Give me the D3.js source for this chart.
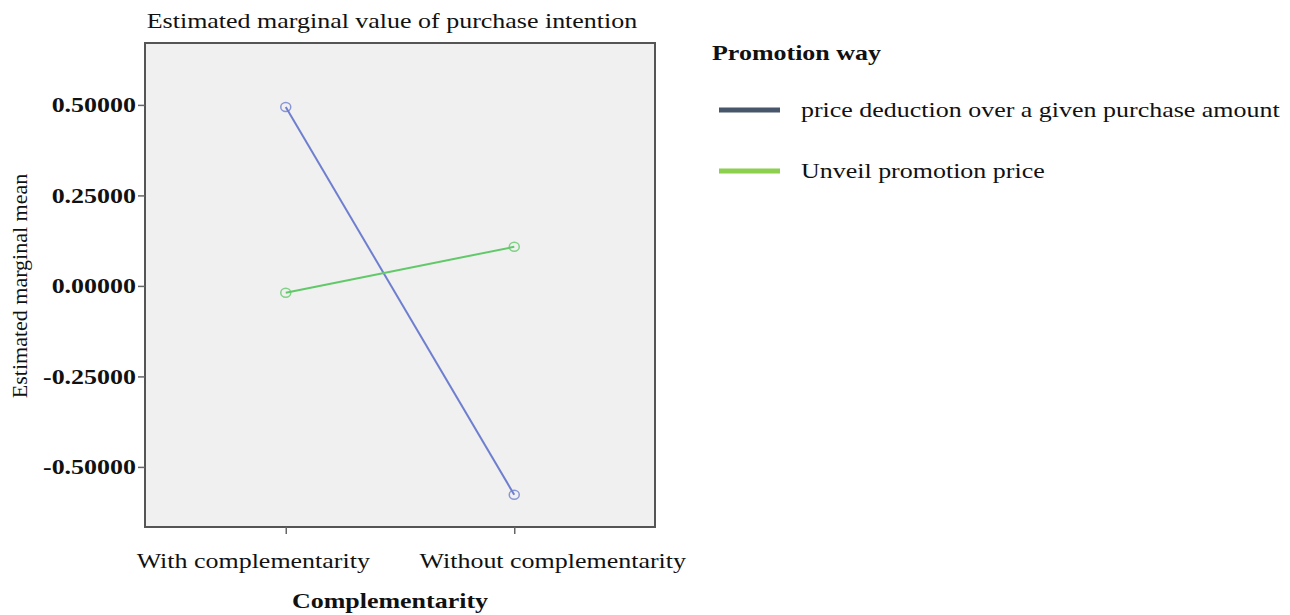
<!DOCTYPE html>
<html>
<head>
<meta charset="utf-8">
<script src="https://cdn.jsdelivr.net/npm/d3@7"></script>
<style>
  body { margin: 0; background: #fff; }
  text { font-family: "Liberation Serif", "Times New Roman", serif; fill: #111; }
</style>
</head>
<body>
<div id="chart"></div>
<script>
(function() {
var width = 1290,
  height = 615;

var categories = ["With complementarity", "Without complementarity"];
var seriesNames = ["price deduction over a given purchase amount", "Unveil promotion price"];
var priceDeduction = [0.494, -0.577];
var unveilPrice = [-0.019, 0.108];
var yTicks = [-0.5, -0.25, 0, 0.25, 0.5];

var lineColors = ["#6f7fcf", "#62c96a"];
var legendColors = ["#48566b", "#8cd04e"];

var series = [
  { name: seriesNames[0], values: priceDeduction },
  { name: seriesNames[1], values: unveilPrice }
];

var left = 145, right = 655, top = 43, bottom = 527;
var stretch = 1.18; // the original picture is a bit wider than tall

var svg = d3.select("#chart")
  .append("svg")
  .attr("width", width)
  .attr("height", height);

var x = d3.scalePoint().domain(categories).range([left, right]).padding(0.616);
var y = d3.scaleLinear().domain([-0.666, 0.671]).range([bottom, top]);

// plot background + frame
svg.append("rect")
  .attr("x", left).attr("y", top)
  .attr("width", right - left).attr("height", bottom - top)
  .attr("fill", "#f0f0f0")
  .attr("stroke", "#555")
  .attr("stroke-width", 2);

// y axis
var yAxis = svg.append("g")
  .attr("transform", "translate(" + left + ",0)")
  .call(d3.axisLeft(y).tickValues(yTicks).tickSize(7).tickPadding(2)
    .tickFormat(function(d) { return d3.format(".5f")(d).replace("\u2212", "-"); }));
yAxis.select(".domain").remove();
yAxis.selectAll("line").attr("stroke", "#666").attr("stroke-width", 1.5);
yAxis.selectAll("text")
  .attr("class", "stretch")
  .attr("font-size", 22).attr("font-weight", "bold")
  .style("font-family", "'Liberation Serif', serif").attr("fill", "#111");

// x axis (labels in the source sit off-centre from their ticks)
var labelShift = [-33, 38];
var xAxis = svg.append("g")
  .attr("transform", "translate(0," + bottom + ")")
  .call(d3.axisBottom(x).tickSize(7).tickPadding(18));
xAxis.select(".domain").remove();
xAxis.selectAll("line").attr("stroke", "#666").attr("stroke-width", 1.5);
xAxis.selectAll("text")
  .attr("class", "stretch")
  .attr("font-size", 22)
  .attr("dx", function(d, i) { return labelShift[i]; })
  .style("font-family", "'Liberation Serif', serif").attr("fill", "#111");

// lines
var line = d3.line()
  .x(function(d, i) { return x(categories[i]); })
  .y(function(d) { return y(d); });

series.forEach(function(s, k) {
  svg.append("path")
    .attr("d", line(s.values))
    .attr("fill", "none")
    .attr("stroke", lineColors[k])
    .attr("stroke-width", 2);
  svg.selectAll(".pt" + k)
    .data(s.values)
    .enter().append("ellipse")
    .attr("cx", function(d, i) { return x(categories[i]); })
    .attr("cy", function(d) { return y(d); })
    .attr("rx", 5).attr("ry", 4.5)
    .attr("fill", "none")
    .attr("stroke", lineColors[k])
    .attr("stroke-opacity", 0.8)
    .attr("stroke-width", 1.5);
});

// titles
svg.append("text")
  .attr("class", "stretch")
  .attr("x", 392).attr("y", 28)
  .attr("text-anchor", "middle")
  .attr("font-size", 22)
  .text("Estimated marginal value of purchase intention");

svg.append("text")
  .attr("transform", "translate(27,286) rotate(-90)")
  .attr("text-anchor", "middle")
  .attr("font-size", 22)
  .text("Estimated marginal mean");

svg.append("text")
  .attr("class", "stretch")
  .attr("x", 390).attr("y", 608)
  .attr("text-anchor", "middle")
  .attr("font-size", 22)
  .attr("font-weight", "bold")
  .text("Complementarity");

// legend
svg.append("text")
  .attr("class", "stretch")
  .attr("x", 712).attr("y", 60)
  .attr("font-size", 22)
  .attr("font-weight", "bold")
  .text("Promotion way");

var legend = svg.selectAll(".legend")
  .data(series)
  .enter().append("g")
  .attr("class", "legend")
  .attr("transform", function(d, i) { return "translate(0," + (110 + i * 61) + ")"; });

legend.append("line")
  .attr("x1", 719).attr("x2", 780)
  .attr("stroke", function(d, i) { return legendColors[i]; })
  .attr("stroke-width", 5);

legend.append("text")
  .attr("class", "stretch")
  .attr("x", 801).attr("y", 7)
  .attr("font-size", 22)
  .text(function(d) { return d.name; });

// widen horizontal text to match the source
svg.selectAll("text.stretch").each(function() {
  var w = this.getComputedTextLength();
  d3.select(this)
    .attr("textLength", w * stretch)
    .attr("lengthAdjust", "spacingAndGlyphs");
});
})();
</script>
</body>
</html>
